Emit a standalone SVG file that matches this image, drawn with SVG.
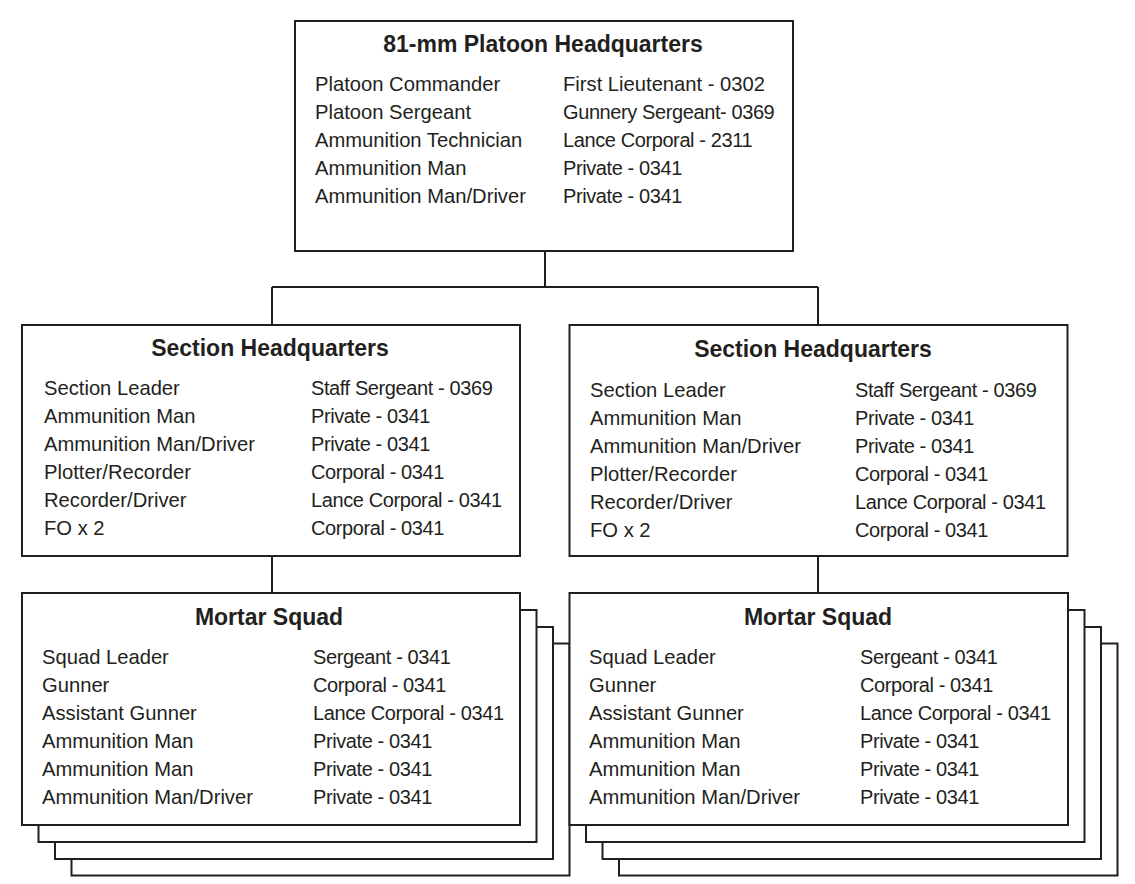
<svg xmlns="http://www.w3.org/2000/svg" width="1135" height="884" viewBox="0 0 1135 884">
<style>
.box{fill:#fff;stroke:#231f20;stroke-width:2}
.ln{fill:none;stroke:#231f20;stroke-width:2}
text{font-family:"Liberation Sans",Arial,sans-serif;fill:#231f20}
.t{font-size:23px;font-weight:bold;text-anchor:middle}
.r{font-size:20.2px}
.c{font-size:20px;letter-spacing:-0.4px}
</style>
<rect width="1135" height="884" fill="#fff"/>
<g id="connectors">
<path class="ln" d="M545,252 V287 M272,287 H818 M272,287 V325 M818,287 V325"/>
<path class="ln" d="M272,556 V593 M818,556 V593"/>
</g>
<g id="platoon-hq">
<rect class="box" x="295" y="21" width="498" height="230"/>
<text class="t" x="543" y="52">81-mm Platoon Headquarters</text>
<text class="r" x="315" y="91">Platoon Commander</text>
<text class="r" x="315" y="119">Platoon Sergeant</text>
<text class="r" x="315" y="147">Ammunition Technician</text>
<text class="r" x="315" y="175">Ammunition Man</text>
<text class="r" x="315" y="203">Ammunition Man/Driver</text>
<text class="r" x="563" y="91">First Lieutenant - 0302</text>
<text class="c" x="563" y="119">Gunnery Sergeant- 0369</text>
<text class="c" x="563" y="147">Lance Corporal - 2311</text>
<text class="c" x="563" y="175">Private - 0341</text>
<text class="c" x="563" y="203">Private - 0341</text>
</g>
<g id="section-hq-left">
<rect class="box" x="22" y="325" width="498" height="231"/>
<text class="t" x="270" y="356">Section Headquarters</text>
<text class="r" x="44" y="395">Section Leader</text>
<text class="r" x="44" y="423">Ammunition Man</text>
<text class="r" x="44" y="451">Ammunition Man/Driver</text>
<text class="r" x="44" y="479">Plotter/Recorder</text>
<text class="r" x="44" y="507">Recorder/Driver</text>
<text class="r" x="44" y="535">FO x 2</text>
<text class="c" x="311" y="395">Staff Sergeant - 0369</text>
<text class="c" x="311" y="423">Private - 0341</text>
<text class="c" x="311" y="451">Private - 0341</text>
<text class="c" x="311" y="479">Corporal - 0341</text>
<text class="c" x="311" y="507">Lance Corporal - 0341</text>
<text class="c" x="311" y="535">Corporal - 0341</text>
</g>
<g id="section-hq-right">
<rect class="box" x="569.5" y="325" width="498" height="231"/>
<text class="t" x="813" y="357">Section Headquarters</text>
<text class="r" x="590" y="397">Section Leader</text>
<text class="r" x="590" y="425">Ammunition Man</text>
<text class="r" x="590" y="453">Ammunition Man/Driver</text>
<text class="r" x="590" y="481">Plotter/Recorder</text>
<text class="r" x="590" y="509">Recorder/Driver</text>
<text class="r" x="590" y="537">FO x 2</text>
<text class="c" x="855" y="397">Staff Sergeant - 0369</text>
<text class="c" x="855" y="425">Private - 0341</text>
<text class="c" x="855" y="453">Private - 0341</text>
<text class="c" x="855" y="481">Corporal - 0341</text>
<text class="c" x="855" y="509">Lance Corporal - 0341</text>
<text class="c" x="855" y="537">Corporal - 0341</text>
</g>
<g id="mortar-squad-left">
<rect class="box" x="71.5" y="643.5" width="498" height="232"/>
<rect class="box" x="55" y="627" width="498" height="232"/>
<rect class="box" x="38.5" y="610" width="498" height="232"/>
<rect class="box" x="22" y="593" width="498" height="232"/>
<text class="t" x="269" y="625">Mortar Squad</text>
<text class="r" x="42" y="664">Squad Leader</text>
<text class="r" x="42" y="692">Gunner</text>
<text class="r" x="42" y="720">Assistant Gunner</text>
<text class="r" x="42" y="748">Ammunition Man</text>
<text class="r" x="42" y="776">Ammunition Man</text>
<text class="r" x="42" y="804">Ammunition Man/Driver</text>
<text class="c" x="313" y="664">Sergeant - 0341</text>
<text class="c" x="313" y="692">Corporal - 0341</text>
<text class="c" x="313" y="720">Lance Corporal - 0341</text>
<text class="c" x="313" y="748">Private - 0341</text>
<text class="c" x="313" y="776">Private - 0341</text>
<text class="c" x="313" y="804">Private - 0341</text>
</g>
<g id="mortar-squad-right">
<rect class="box" x="619" y="643.5" width="498.5" height="232"/>
<rect class="box" x="602.5" y="627" width="498.5" height="232"/>
<rect class="box" x="586" y="610" width="498.5" height="232"/>
<rect class="box" x="569.5" y="593" width="498.5" height="232"/>
<text class="t" x="818" y="625">Mortar Squad</text>
<text class="r" x="589" y="664">Squad Leader</text>
<text class="r" x="589" y="692">Gunner</text>
<text class="r" x="589" y="720">Assistant Gunner</text>
<text class="r" x="589" y="748">Ammunition Man</text>
<text class="r" x="589" y="776">Ammunition Man</text>
<text class="r" x="589" y="804">Ammunition Man/Driver</text>
<text class="c" x="860" y="664">Sergeant - 0341</text>
<text class="c" x="860" y="692">Corporal - 0341</text>
<text class="c" x="860" y="720">Lance Corporal - 0341</text>
<text class="c" x="860" y="748">Private - 0341</text>
<text class="c" x="860" y="776">Private - 0341</text>
<text class="c" x="860" y="804">Private - 0341</text>
</g>
</svg>
